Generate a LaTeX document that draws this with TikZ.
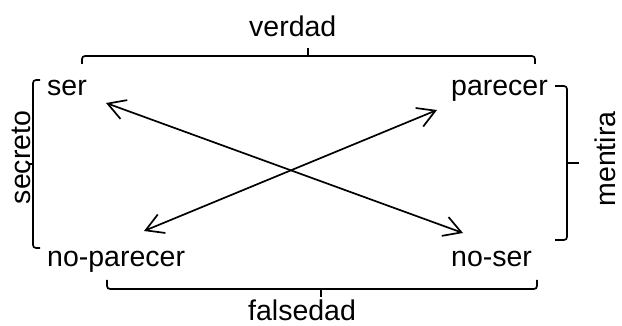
\documentclass[tikz,border=0pt]{standalone}
\usepackage{fontspec}
\setmainfont{Liberation Sans}
\usetikzlibrary{arrows.meta}
\tikzset{
  lbl/.style={inner sep=0pt, font=\fontsize{28.5}{30}\selectfont},
  nodepth/.style={text depth=0pt},
  brk/.style={line width=1.7pt, rounded corners=3pt},
  brtick/.style={line width=1.7pt},
  dblarrow/.style={line width=1.7pt, {Straight Barb[angle=60:20pt]}-{Straight Barb[angle=60:20pt]}}
}
\begin{document}
\begin{tikzpicture}[x=1pt,y=-1pt]
\useasboundingbox (0,0) rectangle (622,326);
% labels
\node[lbl, anchor=base west] (ser) at (47,96) {ser};
\node[lbl, anchor=base west] (par) at (451,96) {parecer};
\node[lbl, anchor=base west] (nopar) at (47,267) {no-parecer};
\node[lbl, anchor=base west] (noser) at (451,267) {no-ser};
\node[lbl, anchor=base west] (verdad) at (249,37) {verdad};
\node[lbl, nodepth, anchor=base west] (falsedad) at (248,320.5) {falsedad};
\node[lbl, nodepth, rotate=90, anchor=base] (secreto) at (30.5,157.5) {secreto};
\node[lbl, nodepth, rotate=90, anchor=base] (mentira) at (615.5,159) {mentira};
% arrow end points
\coordinate (a1) at (106,103);
\coordinate (a2) at (463,233);
\coordinate (b1) at (437,110);
\coordinate (b2) at (144,231);
\draw[dblarrow] (a1) -- (a2);
\draw[dblarrow] (b2) -- (b1);
% braces
\draw[brk] (82,64) -- (82,56) -- (535,56) -- (535,64);
\draw[brtick] (308,56) -- (308,48);
\draw[brk] (107,280) -- (107,289) -- (537,289) -- (537,280);
\draw[brtick] (321,289) -- (321,297);
\draw[brk] (40,80) -- (33,80) -- (33,248) -- (40,248);
\draw[brtick] (33,164) -- (28,164);
\draw[brk] (555,86) -- (567,86) -- (567,240) -- (555,240);
\draw[brtick] (567,163) -- (579,163);
\end{tikzpicture}
\end{document}
